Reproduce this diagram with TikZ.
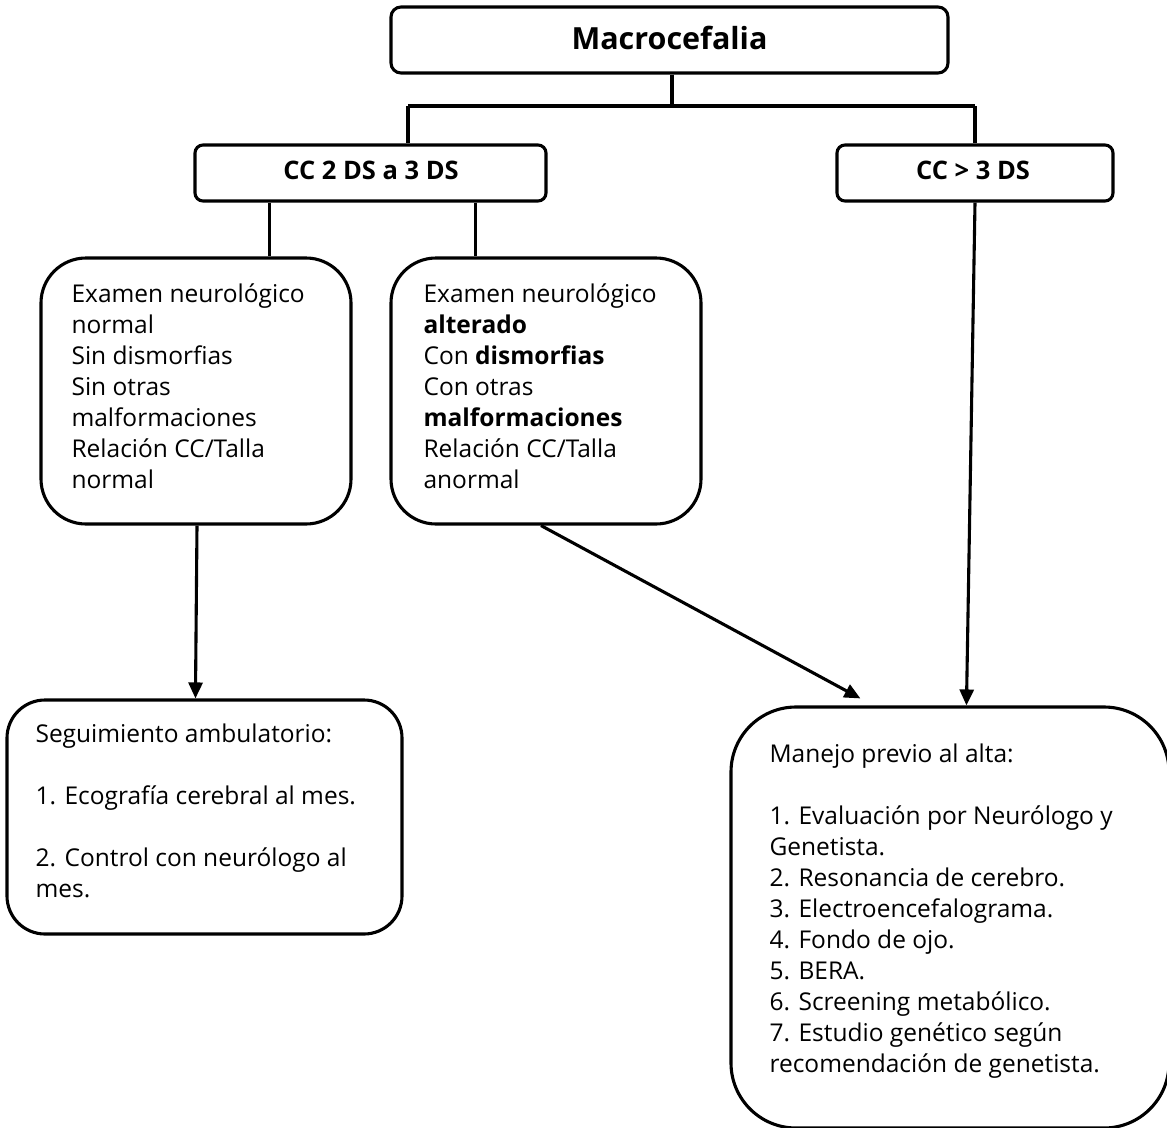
\documentclass[tikz,border=0pt]{standalone}
\usepackage{fontspec}
\setmainfont{Open Sans}
\usetikzlibrary{arrows.meta,calc}
\begin{document}
\begin{tikzpicture}[x=1pt,y=-1pt,line width=3.1pt,
  box/.style={draw=black,rounded corners=#1,inner sep=0pt},
  title/.style={font=\fontsize{30.5}{36}\selectfont\bfseries,inner sep=0pt},
  sub/.style={font=\fontsize{25.5}{30}\selectfont\bfseries,inner sep=0pt},
  txt/.style={font=\fontsize{24.5}{31}\selectfont,align=left,inner sep=0pt,anchor=base west},
  arr/.style={-{Triangle[length=16pt,width=14pt]}}]
\useasboundingbox (0,0) rectangle (1167,1127);
% boxes
\node[box=10pt,minimum width=557pt,minimum height=66pt] (top) at (669.5,40) {};
\node[title] (toptext) at (669.5,38) {Macrocefalia};
\node[box=8pt,minimum width=351pt,minimum height=56pt] (cc2) at (370.5,173) {};
\node[sub] (cc2text) at (371,170) {CC 2 DS a 3 DS};
\node[box=8pt,minimum width=276pt,minimum height=56pt] (cc3) at (975,173) {};
\node[sub] (cc3text) at (973,170) {CC > 3 DS};
\node[box=45pt,minimum width=310pt,minimum height=266pt] (left) at (196,391) {};
\node[txt] (lefttext) at (70,488) {Examen neurológico\\normal\\Sin dismorfias\\Sin otras\\malformaciones\\Relación CC/Talla\\normal};
\node[box=45pt,minimum width=310pt,minimum height=266pt] (mid) at (546,391) {};
\node[txt] (midtext) at (422,488) {Examen neurológico\\\textbf{alterado}\\Con \textbf{dismorfias}\\Con otras\\\textbf{malformaciones}\\Relación CC/Talla\\anormal};
\node[box=38pt,minimum width=395pt,minimum height=234pt] (seg) at (204.5,817) {};
\node[txt] (segtext) at (34,897) {Seguimiento ambulatorio:\\[31pt]1. Ecografía cerebral al mes.\\[31pt]2. Control con neurólogo al\\mes.};
\node[box=65pt,minimum width=438pt,minimum height=421pt] (man) at (950,917.5) {};
\node[txt] (mantext) at (768,1072) {Manejo previo al alta:\\[31pt]1. Evaluación por Neurólogo y\\Genetista.\\2. Resonancia de cerebro.\\3. Electroencefalograma.\\4. Fondo de ojo.\\5. BERA.\\6. Screening metabólico.\\7. Estudio genético según\\recomendación de genetista.};
% connectors
\coordinate (jl) at (408,106);
\coordinate (jr) at (975,106);
\draw ($(top.south)+(2.5,0)$) |- (jl);
\draw ($(top.south)+(2.5,0)$) |- (jr);
\draw (jl) -- (jl |- cc2.north);
\draw (jr) -- (jr |- cc3.north);
\draw ($(cc2.south west)+(76,0)$) -- ($(left.north west)+(230,0)$);
\draw ($(cc2.south west)+(282,0)$) -- ($(mid.north west)+(86,0)$);
\draw[arr] ($(left.south)+(1,0)$) -- ($(seg.north west)+(190,0)$);
\draw[arr] ($(mid.south)+(-5,0)$) -- ($(man.north west)+(131,-7)$);
\draw[arr] (cc3.south) -- ($(man.north west)+(237,0)$);
\end{tikzpicture}
\end{document}
